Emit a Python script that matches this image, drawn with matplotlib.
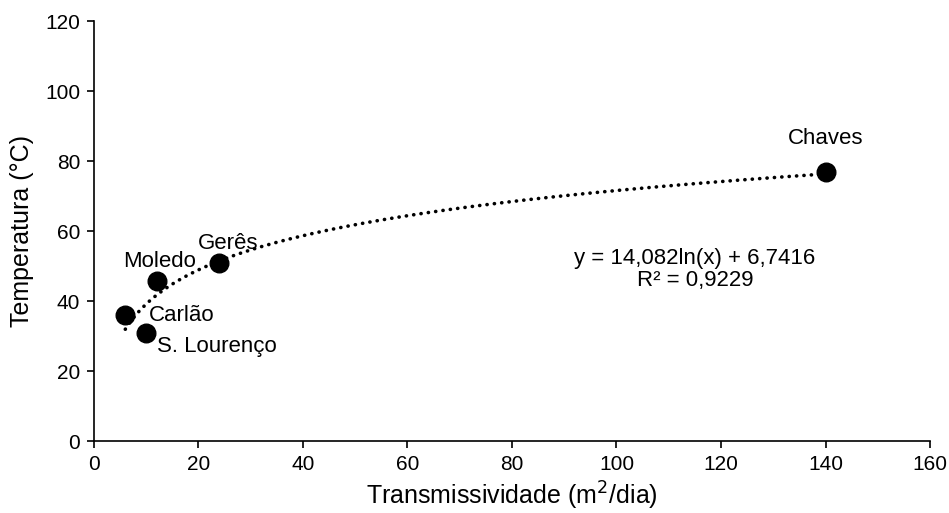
import numpy as np
import matplotlib.pyplot as plt

plt.rcParams['font.family'] = ['Liberation Sans', 'DejaVu Sans']

names = ['Carlão', 'S. Lourenço', 'Moledo', 'Gerês', 'Chaves']
transm = [6, 10, 12, 24, 140]
temp = [36, 31, 45.7, 51, 77]
a, b = 14.082, 6.7416

fig = plt.figure(figsize=(9.49, 5.13), dpi=100)
ax = fig.add_axes([0.099, 0.140, 0.881, 0.819])

xs = np.linspace(min(transm), max(transm), 400)
ax.plot(xs, a * np.log(xs) + b, color='black', lw=2.6,
        linestyle=(0, (0.05, 2.0)), dash_capstyle='round', zorder=2)
ax.scatter(transm, temp, s=180, color='black', zorder=3)

offsets = {'Carlão': (17, 0, 'left', 'center'),
           'S. Lourenço': (8, -10, 'left', 'center'),
           'Moledo': (2, 14, 'center', 'center'),
           'Gerês': (6.5, 14, 'center', 'center'),
           'Chaves': (0, 24, 'center', 'center')}
for n, x, y in zip(names, transm, temp):
    dx, dy, ha, va = offsets[n]
    ax.annotate(n, (x, y), xytext=(dx, dy), textcoords='offset points',
                ha=ha, va=va, fontsize=16)

ax.text(115, 49, 'y = 14,082ln(x) + 6,7416\nR² = 0,9229', ha='center',
        va='center', fontsize=16, linespacing=1.1)

ax.set_xlim(0, 160)
ax.set_ylim(0, 120)
ax.set_xticks(range(0, 161, 20))
ax.set_yticks(range(0, 121, 20))
ax.spines['top'].set_visible(False)
ax.spines['right'].set_visible(False)
ax.spines['left'].set_linewidth(1.2)
ax.spines['bottom'].set_linewidth(1.2)
ax.tick_params(direction='out', length=5, width=1.2, labelsize=15, pad=5)
ax.set_xlabel('Transmissividade (m$^{2}$/dia)', fontsize=18, labelpad=4)
ax.set_ylabel('Temperatura (°C)', fontsize=18, labelpad=8)

fig.savefig('out.png', dpi=100)
